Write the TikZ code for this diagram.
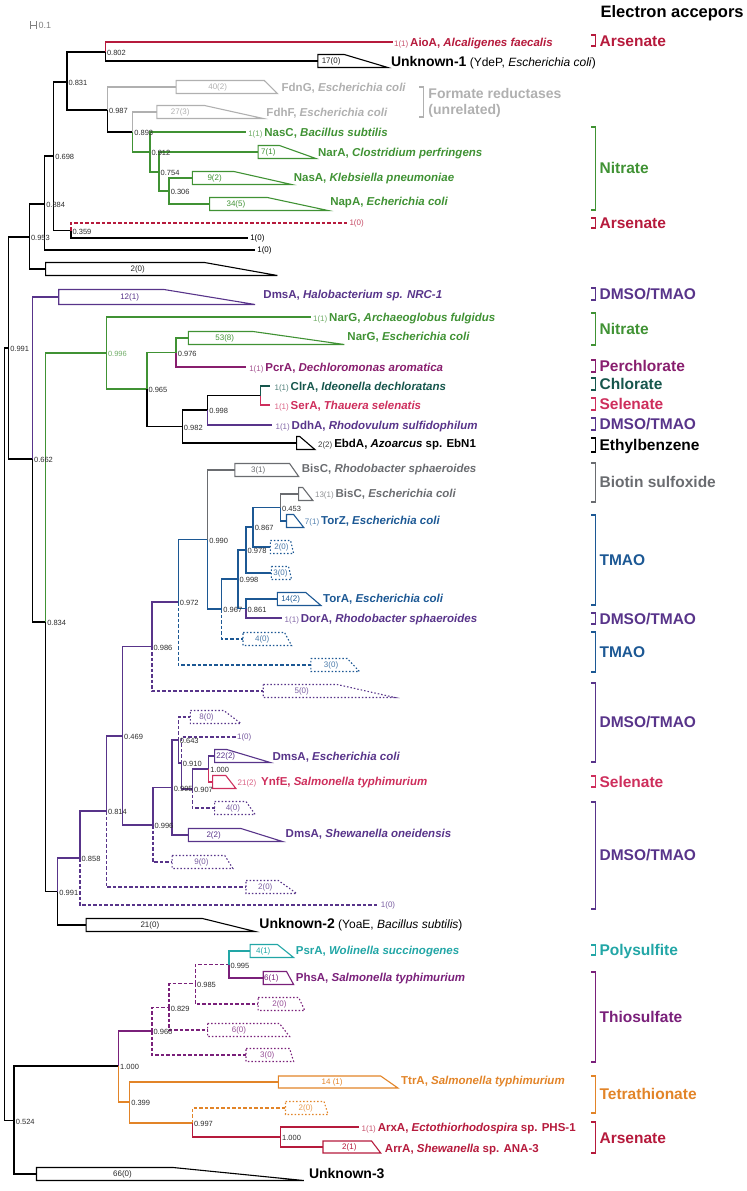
\documentclass[tikz,border=0pt]{standalone}
\usepackage{fontspec}
\setmainfont{Liberation Sans}
\usetikzlibrary{positioning}

\definecolor{arsred}{RGB}{182,26,60}
\definecolor{fdhgray}{RGB}{176,176,176}
\definecolor{nitgreen}{RGB}{64,146,52}
\definecolor{dmsopur}{RGB}{88,52,138}
\definecolor{perchl}{RGB}{136,30,110}
\definecolor{chlor}{RGB}{22,86,76}
\definecolor{selen}{RGB}{206,46,92}
\definecolor{biogray}{RGB}{106,108,112}
\definecolor{tmaoblue}{RGB}{28,88,148}
\definecolor{polyteal}{RGB}{34,166,166}
\definecolor{thiopur}{RGB}{122,32,122}
\definecolor{tetraor}{RGB}{226,132,40}
\definecolor{lblgray}{RGB}{45,45,45}

\newcommand{\cntpre}[1]{{\mdseries\upshape\fontsize{8}{9}\selectfont\color{.!75!white}#1}\,}

\tikzset{
  br/.style={line width=1.4pt},
  dsh/.style={line width=1.4pt, dash pattern=on 3.5pt off 2pt},
  clade/.style={line width=1.1pt, line join=miter},
  dotclade/.style={line width=1.1pt, dash pattern=on 1.5pt off 2pt},
  leaf/.style={anchor=west, inner sep=0pt, text height=8.2pt, text depth=0pt, font=\bfseries\fontsize{11.5}{12}\selectfont},
  unk/.style={anchor=west, inner sep=0pt, text height=10pt, text depth=0pt, font=\fontsize{12}{13}\selectfont},
  cnt/.style={inner sep=0pt, text height=5.7pt, text depth=0pt, font=\fontsize{8}{9}\selectfont},
  supp/.style={anchor=west, inner sep=0pt, text height=5.4pt, text depth=0pt, yshift=-1pt, font=\fontsize{7.5}{8}\selectfont, text=lblgray},
  grp/.style={anchor=west, inner sep=0pt, text height=11.1pt, text depth=0pt, font=\bfseries\fontsize{15.5}{16}\selectfont},
  brk/.style={line width=1.3pt},
}

\begin{document}
\begin{tikzpicture}[x=1.0125pt,y=-1pt]
\useasboundingbox (0,0) rectangle (736.8,1191);

% header and scale bar
\node[grp,font=\bfseries\fontsize{16.5}{17}\selectfont,text height=11.8pt] (title) at (593,12) {Electron accepors};
\coordinate (sbL) at (30,25);
\coordinate (sbR) at (36.5,25);
\draw[gray,line width=0.8pt,|-|] (sbL) -- (sbR);
\node[anchor=west,inner sep=0pt,text=gray,font=\fontsize{9}{10}\selectfont] (sbT) at (38,25) {0.1};

% internal nodes
\coordinate (root) at (4.5,734);
\coordinate (n0991) at (8.5,348);
\coordinate (n0953) at (29,237);
\coordinate (n0884) at (44,204);
\coordinate (n0698) at (53,156);
\coordinate (n0831) at (66,82);
\coordinate (n0802) at (104,52);
\coordinate (n0987) at (106,110);
\coordinate (n0893) at (131,132);
\coordinate (n0912) at (148,152);
\coordinate (n0754) at (157,172);
\coordinate (n0306) at (167,191);
\coordinate (n0359) at (70,230.5);
\coordinate (n0662) at (32,459);
\coordinate (n0834) at (45,622);
\coordinate (n0996) at (105,353);
\coordinate (n0965) at (145,389);
\coordinate (n0976) at (174,352.5);
\coordinate (n0982) at (180,426.5);
\coordinate (n0998a) at (205,410);
\coordinate (nX) at (257,395.5);
\coordinate (n0991b) at (57,891.5);
\coordinate (n0858) at (79,858);
\coordinate (n0814) at (105,811);
\coordinate (n0469) at (121,736);
\coordinate (n0986) at (150,646.5);
\coordinate (n0972) at (176,602);
\coordinate (n0990) at (205,539.5);
\coordinate (n0967) at (219,609);
\coordinate (n0998b) at (235,579);
\coordinate (n0978) at (243,550);
\coordinate (n0867) at (250,527);
\coordinate (n0453) at (277,507.5);
\coordinate (n0861) at (243,608.5);
\coordinate (n0996c) at (151,825);
\coordinate (nY) at (170,787.5);
\coordinate (n0643) at (176,740);
\coordinate (n0910) at (179,763);
\coordinate (n0907) at (190,789);
\coordinate (n1000a) at (206,769);
\coordinate (n0524) at (14,1120.5);
\coordinate (n1000b) at (117,1066);
\coordinate (n0966) at (150,1031);
\coordinate (n0829) at (167,1007.5);
\coordinate (n0985) at (193,983.5);
\coordinate (n0995) at (226,964.5);
\coordinate (n0399) at (128,1102);
\coordinate (n0997) at (190,1123);
\coordinate (n1000c) at (277,1137);

% leaf ends and collapsed clades
\coordinate (lAioA) at (388,42);
\coordinate (cUnk1) at (314,61);
\coordinate (cFdnG) at (174,87);
\coordinate (cFdhF) at (155,112);
\coordinate (lNasC) at (243,132);
\coordinate (cNarA) at (255,152);
\coordinate (cNasA) at (190,178);
\coordinate (cNapA) at (207,204);
\coordinate (lArsD) at (343,223);
\coordinate (l1a) at (245,238);
\coordinate (l1b) at (252,250);
\coordinate (c2a) at (45,269);
\coordinate (cHalo) at (58,297);
\coordinate (lNarGa) at (307,317);
\coordinate (cNarGe) at (186,338);
\coordinate (lPcrA) at (243,367);
\coordinate (lClrA) at (267,386);
\coordinate (lSerA) at (267,405);
\coordinate (lDdhA) at (269,425);
\coordinate (cEbdA) at (293,443);
\coordinate (cBisRs) at (232,470);
\coordinate (cBisEc) at (295,494);
\coordinate (cTorZ) at (283,521);
\coordinate (cTm2a) at (267,547);
\coordinate (cTm3a) at (268,573);
\coordinate (cTorA) at (274,599);
\coordinate (lDorA) at (279,618);
\coordinate (cTm4) at (240,639);
\coordinate (cTm3b) at (307,665);
\coordinate (cD5) at (260,691);
\coordinate (cD8) at (188,717);
\coordinate (lD1a) at (233,737);
\coordinate (cDmsEc) at (212,756);
\coordinate (cYnfE) at (210,782);
\coordinate (cD4) at (212,808);
\coordinate (cDmsSh) at (186,835);
\coordinate (cD9) at (170,862);
\coordinate (cD2) at (243,887);
\coordinate (lD1b) at (374,905);
\coordinate (cUnk2) at (85,925);
\coordinate (cPsrA) at (247,951);
\coordinate (cPhsA) at (260,978);
\coordinate (cT2) at (255,1004);
\coordinate (cT6) at (205,1030);
\coordinate (cT3) at (243,1055);
\coordinate (cTtrA) at (275,1082);
\coordinate (cO2) at (282,1108);
\coordinate (lArxA) at (355,1127);
\coordinate (cArrA) at (319,1147);
\coordinate (cUnk3) at (36,1174);

% branches, upper part
\draw[br] (root) |- (n0991);
\draw[br] (root) |- (n0524);
\draw[br] (n0991) |- (n0953);
\draw[br] (n0991) |- (n0662);
\draw[br] (n0953) |- (n0884);
\draw[br] (n0953) |- (c2a);
\draw[br] (n0884) |- (n0698);
\draw[br] (n0884) |- (l1b);
\draw[br] (n0698) |- (n0831);
\draw[br] (n0698) |- (n0359);
\draw[br] (n0359) |- (l1a);
\draw[dsh,arsred] (n0359) |- (lArsD);
\draw[br] (n0831) |- (n0802);
\draw[br] (n0831) |- (n0987);
\draw[br,arsred] (n0802) |- (lAioA);
\draw[br] (n0802) |- (cUnk1);
\draw[br,fdhgray] (n0987) |- (cFdnG);
\draw[br] (n0987) |- (n0893);
\draw[br,fdhgray] (n0893) |- (cFdhF);
\draw[br,nitgreen] (n0893) |- (n0912);
\draw[br,nitgreen] (n0912) |- (lNasC);
\draw[br,nitgreen] (n0912) |- (n0754);
\draw[br,nitgreen] (n0754) |- (cNarA);
\draw[br,nitgreen] (n0754) |- (n0306);
\draw[br,nitgreen] (n0306) |- (cNasA);
\draw[br,nitgreen] (n0306) |- (cNapA);

% branches, middle part
\draw[br,dmsopur] (n0662) |- (cHalo);
\draw[br] (n0662) |- (n0834);
\draw[br,nitgreen] (n0834) |- (n0996);
\draw[br] (n0834) |- (n0991b);
\draw[br,nitgreen] (n0996) |- (lNarGa);
\draw[br,nitgreen] (n0996) |- (n0965);
\draw[br,nitgreen] (n0965) |- (n0976);
\draw[br] (n0965) |- (n0982);
\draw[br,nitgreen] (n0976) |- (cNarGe);
\draw[br,perchl] (n0976) |- (lPcrA);
\draw[br] (n0982) |- (n0998a);
\draw[br] (n0982) |- (cEbdA);
\draw[br] (n0998a) |- (nX);
\draw[br,dmsopur] (n0998a) |- (lDdhA);
\draw[br,chlor] (nX) |- (lClrA);
\draw[br,selen] (nX) |- (lSerA);
\draw[br,dmsopur] (n0991b) |- (n0858);
\draw[br] (n0991b) |- (cUnk2);
\draw[br,dmsopur] (n0858) |- (n0814);
\draw[dsh,dmsopur] (n0858) |- (lD1b);
\draw[br,dmsopur] (n0814) |- (n0469);
\draw[dsh,dmsopur] (n0814) |- (cD2);
\draw[br,dmsopur] (n0469) |- (n0986);
\draw[br,dmsopur] (n0469) |- (n0996c);
\draw[br,dmsopur] (n0986) |- (n0972);
\draw[dsh,dmsopur] (n0986) |- (cD5);
\draw[br,tmaoblue] (n0972) |- (n0990);
\draw[dsh,tmaoblue] (n0972) |- (cTm3b);
\draw[br,biogray] (n0990) |- (cBisRs);
\draw[br,tmaoblue] (n0990) |- (n0967);
\draw[br,tmaoblue] (n0967) |- (n0998b);
\draw[dsh,tmaoblue] (n0967) |- (cTm4);
\draw[br,tmaoblue] (n0998b) |- (n0978);
\draw[br,tmaoblue] (n0998b) |- (n0861);
\draw[br,tmaoblue] (n0978) |- (n0867);
\draw[br,tmaoblue] (n0978) |- (cTm3a);
\draw[br,tmaoblue] (n0867) |- (n0453);
\draw[br,tmaoblue] (n0867) |- (cTm2a);
\draw[br,biogray] (n0453) |- (cBisEc);
\draw[br,tmaoblue] (n0453) |- (cTorZ);
\draw[br,tmaoblue] (n0861) |- (cTorA);
\draw[br,dmsopur] (n0861) |- (lDorA);
\draw[br,dmsopur] (n0996c) |- (nY);
\draw[dsh,dmsopur] (n0996c) |- (cD9);
\draw[br,dmsopur] (nY) |- (n0643);
\draw[br,dmsopur] (nY) |- (cDmsSh);
\draw[dsh,dmsopur] (n0643) |- (cD8);
\draw[br,dmsopur] (n0643) |- (n0910);
\draw[dsh,dmsopur] (n0910) |- (lD1a);
\draw[br,dmsopur] (n0910) |- (n0907);
\draw[br,dmsopur] (n0907) |- (n1000a);
\draw[dsh,dmsopur] (n0907) |- (cD4);
\draw[br,dmsopur] (n1000a) |- (cDmsEc);
\draw[br,selen] (n1000a) |- (cYnfE);

% branches, lower part
\draw[br] (n0524) |- (n1000b);
\draw[br] (n0524) |- (cUnk3);
\draw[br,thiopur] (n1000b) |- (n0966);
\draw[br,tetraor] (n1000b) |- (n0399);
\draw[dsh,thiopur] (n0966) |- (n0829);
\draw[dsh,thiopur] (n0966) |- (cT3);
\draw[dsh,thiopur] (n0829) |- (n0985);
\draw[dsh,thiopur] (n0829) |- (cT6);
\draw[dsh,thiopur] (n0985) |- (n0995);
\draw[dsh,thiopur] (n0985) |- (cT2);
\draw[br,polyteal] (n0995) |- (cPsrA);
\draw[br,thiopur] (n0995) |- (cPhsA);
\draw[br,tetraor] (n0399) |- (cTtrA);
\draw[br,tetraor] (n0399) |- (n0997);
\draw[dsh,tetraor] (n0997) |- (cO2);
\draw[br,arsred] (n0997) |- (n1000c);
\draw[br,arsred] (n1000c) |- (lArxA);
\draw[br,arsred] (n1000c) |- (cArrA);

% collapsed clades
\draw[clade] (cUnk1) ++(0,-6.5) -- ++(26,0) -- ++(43,13) -- ++(-69,0) -- cycle;
\draw[clade,fdhgray] (cFdnG) ++(0,-6.5) -- ++(87,0) -- ++(13,13) -- ++(-100,0) -- cycle;
\draw[clade,fdhgray] (cFdhF) ++(0,-6.5) -- ++(47,0) -- ++(58,13) -- ++(-105,0) -- cycle;
\draw[clade,nitgreen] (cNarA) ++(0,-6.5) -- ++(21,0) -- ++(36,13) -- ++(-57,0) -- cycle;
\draw[clade,nitgreen] (cNasA) ++(0,-6.5) -- ++(41,0) -- ++(57,13) -- ++(-98,0) -- cycle;
\draw[clade,nitgreen] (cNapA) ++(0,-6.5) -- ++(57,0) -- ++(60,13) -- ++(-117,0) -- cycle;
\draw[clade] (c2a) ++(0,-6.5) -- ++(157,0) -- ++(72,13) -- ++(-229,0) -- cycle;
\draw[clade,dmsopur] (cHalo) ++(0,-7.5) -- ++(104,0) -- ++(90,15) -- ++(-194,0) -- cycle;
\draw[clade,nitgreen] (cNarGe) ++(0,-6.5) -- ++(64,0) -- ++(90,13) -- ++(-154,0) -- cycle;
\draw[clade] (cEbdA) ++(0,-6.5) -- ++(3,0) -- ++(15,13) -- ++(-18,0) -- cycle;
\draw[clade,biogray] (cBisRs) ++(0,-6.5) -- ++(54,0) -- ++(9,13) -- ++(-63,0) -- cycle;
\draw[clade,biogray] (cBisEc) ++(0,-6.5) -- ++(4,0) -- ++(10,13) -- ++(-14,0) -- cycle;
\draw[clade,tmaoblue] (cTorZ) ++(0,-6.5) -- ++(7,0) -- ++(10,13) -- ++(-17,0) -- cycle;
\draw[dotclade,tmaoblue] (cTm2a) ++(0,-6.5) -- ++(20,0) -- ++(3,13) -- ++(-23,0) -- cycle;
\draw[dotclade,tmaoblue] (cTm3a) ++(0,-6.5) -- ++(17,0) -- ++(3,13) -- ++(-20,0) -- cycle;
\draw[clade,tmaoblue] (cTorA) ++(0,-6.5) -- ++(28,0) -- ++(15,13) -- ++(-43,0) -- cycle;
\draw[dotclade,tmaoblue] (cTm4) ++(0,-6.5) -- ++(41,0) -- ++(7,13) -- ++(-48,0) -- cycle;
\draw[dotclade,tmaoblue] (cTm3b) ++(0,-6.5) -- ++(36,0) -- ++(12,13) -- ++(-48,0) -- cycle;
\draw[dotclade,dmsopur] (cD5) ++(0,-6.5) -- ++(73,0) -- ++(57,13) -- ++(-130,0) -- cycle;
\draw[dotclade,dmsopur] (cD8) ++(0,-6.5) -- ++(33,0) -- ++(17,13) -- ++(-50,0) -- cycle;
\draw[clade,dmsopur] (cDmsEc) ++(0,-6.5) -- ++(12,0) -- ++(43,13) -- ++(-55,0) -- cycle;
\draw[clade,selen] (cYnfE) ++(0,-6.5) -- ++(13,0) -- ++(10,13) -- ++(-23,0) -- cycle;
\draw[dotclade,dmsopur] (cD4) ++(0,-6.5) -- ++(31,0) -- ++(9,13) -- ++(-40,0) -- cycle;
\draw[clade,dmsopur] (cDmsSh) ++(0,-6.5) -- ++(52,0) -- ++(41,13) -- ++(-93,0) -- cycle;
\draw[dotclade,dmsopur] (cD9) ++(0,-6.5) -- ++(52,0) -- ++(8,13) -- ++(-60,0) -- cycle;
\draw[dotclade,dmsopur] (cD2) ++(0,-6.5) -- ++(32,0) -- ++(18,13) -- ++(-50,0) -- cycle;
\draw[clade] (cUnk2) ++(0,-6.5) -- ++(115,0) -- ++(52,13) -- ++(-167,0) -- cycle;
\draw[clade,polyteal] (cPsrA) ++(0,-6.5) -- ++(27,0) -- ++(16,13) -- ++(-43,0) -- cycle;
\draw[clade,thiopur] (cPhsA) ++(0,-6.5) -- ++(23,0) -- ++(7,13) -- ++(-30,0) -- cycle;
\draw[dotclade,thiopur] (cT2) ++(0,-6.5) -- ++(40,0) -- ++(6,13) -- ++(-46,0) -- cycle;
\draw[dotclade,thiopur] (cT6) ++(0,-6.5) -- ++(71,0) -- ++(10,13) -- ++(-81,0) -- cycle;
\draw[dotclade,thiopur] (cT3) ++(0,-6.5) -- ++(43,0) -- ++(4,13) -- ++(-47,0) -- cycle;
\draw[clade,tetraor] (cTtrA) ++(0,-6) -- ++(101,0) -- ++(17,12) -- ++(-118,0) -- cycle;
\draw[dotclade,tetraor] (cO2) ++(0,-6.5) -- ++(38,0) -- ++(4,13) -- ++(-42,0) -- cycle;
\draw[clade,arsred] (cArrA) ++(0,-6) -- ++(48,0) -- ++(9,12) -- ++(-57,0) -- cycle;
\draw[clade] (cUnk3) ++(0,-6.5) -- ++(135,0) -- ++(129,13) -- ++(-264,0) -- cycle;

% clade sizes
\node[cnt,text=black!85] (kUnk1) at (327,61) {17(0)};
\node[cnt,text=fdhgray] (kFdnG) at (215,87) {40(2)};
\node[cnt,text=fdhgray] (kFdhF) at (178,112) {27(3)};
\node[cnt,text=nitgreen] (kNarA) at (265,152) {7(1)};
\node[cnt,text=nitgreen] (kNasA) at (212,178) {9(2)};
\node[cnt,text=nitgreen] (kNapA) at (233,204) {34(5)};
\node[cnt,text=black!85] (k2a) at (136,269) {2(0)};
\node[cnt,text=dmsopur] (kHalo) at (128,297) {12(1)};
\node[cnt,text=nitgreen] (kNarGe) at (222,338) {53(8)};
\node[cnt,text=biogray] (kBisRs) at (255,470) {3(1)};
\node[cnt,text=tmaoblue!80] (kTm2a) at (278,547) {2(0)};
\node[cnt,text=tmaoblue!80] (kTm3a) at (277,573) {3(0)};
\node[cnt,text=tmaoblue] (kTorA) at (287,599) {14(2)};
\node[cnt,text=tmaoblue!80] (kTm4) at (259,639) {4(0)};
\node[cnt,text=tmaoblue!80] (kTm3b) at (327,665) {3(0)};
\node[cnt,text=dmsopur!80] (kD5) at (298,691) {5(0)};
\node[cnt,text=dmsopur!80] (kD8) at (204,717) {8(0)};
\node[cnt,text=dmsopur] (kDmsEc) at (223,756) {22(2)};
\node[cnt,text=dmsopur!80] (kD4) at (230,808) {4(0)};
\node[cnt,text=dmsopur] (kDmsSh) at (211,835) {2(2)};
\node[cnt,text=dmsopur!80] (kD9) at (199,862) {9(0)};
\node[cnt,text=dmsopur!80] (kD2) at (262,887) {2(0)};
\node[cnt,text=black!85] (kUnk2) at (148,925) {21(0)};
\node[cnt,text=polyteal] (kPsrA) at (260,951) {4(1)};
\node[cnt,text=thiopur] (kPhsA) at (268,978) {6(1)};
\node[cnt,text=thiopur!80] (kT2) at (276,1004) {2(0)};
\node[cnt,text=thiopur!80] (kT6) at (236,1030) {6(0)};
\node[cnt,text=thiopur!80] (kT3) at (264,1055) {3(0)};
\node[cnt,text=tetraor] (kTtrA) at (328,1082) {14 (1)};
\node[cnt,text=tetraor!80] (kO2) at (302,1108) {2(0)};
\node[cnt,text=arsred] (kArrA) at (345,1147) {2(1)};
\node[cnt,text=black!85] (kUnk3) at (121,1174) {66(0)};
\node[cnt,anchor=west,text=arsred!80] (kArsD) at (345,223) {1(0)};
\node[cnt,anchor=west,text=black] (k1a) at (247,238) {1(0)};
\node[cnt,anchor=west,text=black] (k1b) at (254,250) {1(0)};
\node[cnt,anchor=west,text=dmsopur!80] (kD1a) at (234,737) {1(0)};
\node[cnt,anchor=west,text=dmsopur!80] (kD1b) at (376,905) {1(0)};

% tip names
\node[leaf,arsred] (tAioA) at (389,42) {\cntpre{1(1)}AioA, \textit{Alcaligenes faecalis}};
\node[unk] (tUnk1) at (386,61) {\textbf{\fontsize{14}{15}\selectfont Unknown-1} (YdeP, \textit{Escherichia coli})};
\node[leaf,fdhgray] (tFdnG) at (278,87) {FdnG, \textit{Escherichia coli}};
\node[leaf,fdhgray] (tFdhF) at (263,112) {FdhF, \textit{Escherichia coli}};
\node[leaf,nitgreen] (tNasC) at (245,132) {\cntpre{1(1)}NasC, \textit{Bacillus subtilis}};
\node[leaf,nitgreen] (tNarA) at (314,152) {NarA, \textit{Clostridium perfringens}};
\node[leaf,nitgreen] (tNasA) at (290,177) {NasA, \textit{Klebsiella pneumoniae}};
\node[leaf,nitgreen] (tNapA) at (326,201) {NapA, \textit{Echerichia coli}};
\node[leaf,dmsopur] (tHalo) at (260,294) {DmsA, \textit{Halobacterium sp. NRC-1}};
\node[leaf,nitgreen] (tNarGa) at (309,317) {\cntpre{1(1)}NarG, \textit{Archaeoglobus fulgidus}};
\node[leaf,nitgreen] (tNarGe) at (343,336) {NarG, \textit{Escherichia coli}};
\node[leaf,perchl] (tPcrA) at (246,367) {\cntpre{1(1)}PcrA, \textit{Dechloromonas aromatica}};
\node[leaf,chlor] (tClrA) at (271,386) {\cntpre{1(1)}ClrA, \textit{Ideonella dechloratans}};
\node[leaf,selen] (tSerA) at (271,405) {\cntpre{1(1)}SerA, \textit{Thauera selenatis}};
\node[leaf,dmsopur] (tDdhA) at (272,425) {\cntpre{1(1)}DdhA, \textit{Rhodovulum sulfidophilum}};
\node[leaf,black] (tEbdA) at (314,443) {\cntpre{2(2)}EbdA, \textit{Azoarcus} sp. EbN1};
\node[leaf,biogray] (tBisRs) at (298,468) {BisC, \textit{Rhodobacter sphaeroides}};
\node[leaf,biogray] (tBisEc) at (311,493) {\cntpre{13(1)}BisC, \textit{Escherichia coli}};
\node[leaf,tmaoblue] (tTorZ) at (301,520) {\cntpre{7(1)}TorZ, \textit{Escherichia coli}};
\node[leaf,tmaoblue] (tTorA) at (319,598) {TorA, \textit{Escherichia coli}};
\node[leaf,dmsopur] (tDorA) at (281,618) {\cntpre{1(1)}DorA, \textit{Rhodobacter sphaeroides}};
\node[leaf,dmsopur] (tDmsEc) at (269,756) {DmsA, \textit{Escherichia coli}};
\node[leaf,selen] (tYnfE) at (234.5,781) {\cntpre{21(2)}\hspace{3pt}YnfE, \textit{Salmonella typhimurium}};
\node[leaf,dmsopur] (tDmsSh) at (282,833) {DmsA, \textit{Shewanella oneidensis}};
\node[unk] (tUnk2) at (256,923) {\textbf{\fontsize{14}{15}\selectfont Unknown-2} (YoaE, \textit{Bacillus subtilis})};
\node[leaf,polyteal] (tPsrA) at (292,950) {PsrA, \textit{Wolinella succinogenes}};
\node[leaf,thiopur] (tPhsA) at (292,977) {PhsA, \textit{Salmonella typhimurium}};
\node[leaf,tetraor] (tTtrA) at (396,1080) {TtrA, \textit{Salmonella typhimurium}};
\node[leaf,arsred] (tArxA) at (357,1127) {\cntpre{1(1)}ArxA, \textit{Ectothiorhodospira} sp. PHS-1};
\node[leaf,arsred] (tArrA) at (380,1148) {ArrA, \textit{Shewanella} sp. ANA-3};
\node[unk] (tUnk3) at (305,1173) {\textbf{\fontsize{14}{15}\selectfont Unknown-3}};

% support values
\node[supp, right=1.5pt of n0802] (s0802) {0.802};
\node[supp, right=1.5pt of n0831] (s0831) {0.831};
\node[supp, right=1.5pt of n0987] (s0987) {0.987};
\node[supp, right=1.5pt of n0893] (s0893) {0.893};
\node[supp, right=1.5pt of n0912] (s0912) {0.912};
\node[supp, right=1.5pt of n0754] (s0754) {0.754};
\node[supp, right=1.5pt of n0306] (s0306) {0.306};
\node[supp, right=1.5pt of n0698] (s0698) {0.698};
\node[supp, right=1.5pt of n0884] (s0884) {0.884};
\node[supp, right=1.5pt of n0359] (s0359) {0.359};
\node[supp, right=1.5pt of n0953] (s0953) {0.953};
\node[supp, right=1.5pt of n0991] (s0991) {0.991};
\node[supp, right=1.5pt of n0662] (s0662) {0.662};
\node[supp, right=1.5pt of n0996, text=nitgreen!75] (s0996) {0.996};
\node[supp, right=1.5pt of n0976] (s0976) {0.976};
\node[supp, right=1.5pt of n0965] (s0965) {0.965};
\node[supp, right=1.5pt of n0982] (s0982) {0.982};
\node[supp, right=1.5pt of n0998a] (s0998a) {0.998};
\node[supp, right=1.5pt of n0834] (s0834) {0.834};
\node[supp, right=1.5pt of n0990] (s0990) {0.990};
\node[supp, right=1.5pt of n0453] (s0453) {0.453};
\node[supp, right=1.5pt of n0867] (s0867) {0.867};
\node[supp, right=1.5pt of n0978] (s0978) {0.978};
\node[supp, right=1.5pt of n0998b] (s0998b) {0.998};
\node[supp, right=1.5pt of n0861] (s0861) {0.861};
\node[supp, right=1.5pt of n0967] (s0967) {0.967};
\node[supp, right=1.5pt of n0972] (s0972) {0.972};
\node[supp, right=1.5pt of n0986] (s0986) {0.986};
\node[supp, right=1.5pt of n0469] (s0469) {0.469};
\node[supp, right=1.5pt of n0643] (s0643) {0.643};
\node[supp, right=1.5pt of n0910] (s0910) {0.910};
\node[supp, right=1.5pt of n1000a] (s1000a) {1.000};
\node[supp, right=1.5pt of nY] (sY) {0.995};
\node[supp, right=1.5pt of n0907] (s0907) {0.907};
\node[supp, right=1.5pt of n0996c] (s0996c) {0.996};
\node[supp, right=1.5pt of n0814] (s0814) {0.814};
\node[supp, right=1.5pt of n0858] (s0858) {0.858};
\node[supp, right=1.5pt of n0991b] (s0991b) {0.991};
\node[supp, right=1.5pt of n0995] (s0995) {0.995};
\node[supp, right=1.5pt of n0985] (s0985) {0.985};
\node[supp, right=1.5pt of n0829] (s0829) {0.829};
\node[supp, right=1.5pt of n0966] (s0966) {0.966};
\node[supp, right=1.5pt of n1000b] (s1000b) {1.000};
\node[supp, right=1.5pt of n0399] (s0399) {0.399};
\node[supp, right=1.5pt of n0997] (s0997) {0.997};
\node[supp, right=1.5pt of n1000c] (s1000c) {1.000};
\node[supp, right=1.5pt of n0524] (s0524) {0.524};

% electron acceptor brackets
\draw[brk,arsred] (584,35) -- (588,35) -- (588,46) -- (584,46);
\draw[brk,fdhgray] (414,87) -- (418,87) -- (418,117) -- (414,117);
\draw[brk,nitgreen] (584,127) -- (588,127) -- (588,210) -- (584,210);
\draw[brk,arsred] (584,218) -- (588,218) -- (588,228) -- (584,228);
\draw[brk,dmsopur] (584,288) -- (588,288) -- (588,300) -- (584,300);
\draw[brk,nitgreen] (584,313) -- (588,313) -- (588,345) -- (584,345);
\draw[brk,perchl] (584,360) -- (588,360) -- (588,372) -- (584,372);
\draw[brk,chlor] (584,378) -- (588,378) -- (588,390) -- (584,390);
\draw[brk,selen] (584,398) -- (588,398) -- (588,410) -- (584,410);
\draw[brk,dmsopur] (584,418) -- (588,418) -- (588,430) -- (584,430);
\draw[brk,black] (584,438) -- (588,438) -- (588,452) -- (584,452);
\draw[brk,biogray] (584,463) -- (588,463) -- (588,502) -- (584,502);
\draw[brk,tmaoblue] (584,515) -- (588,515) -- (588,605) -- (584,605);
\draw[brk,dmsopur] (584,613) -- (588,613) -- (588,624) -- (584,624);
\draw[brk,tmaoblue] (584,632) -- (588,632) -- (588,672) -- (584,672);
\draw[brk,dmsopur] (584,683) -- (588,683) -- (588,762) -- (584,762);
\draw[brk,selen] (584,776) -- (588,776) -- (588,787) -- (584,787);
\draw[brk,dmsopur] (584,802) -- (588,802) -- (588,909) -- (584,909);
\draw[brk,polyteal] (584,945) -- (588,945) -- (588,955) -- (584,955);
\draw[brk,thiopur] (584,972) -- (588,972) -- (588,1062) -- (584,1062);
\draw[brk,tetraor] (584,1076) -- (588,1076) -- (588,1113) -- (584,1113);
\draw[brk,arsred] (584,1122) -- (588,1122) -- (588,1153) -- (584,1153);

\node[grp,arsred] (gArs1) at (592,40.5) {Arsenate};
\node[anchor=west,inner sep=0pt,text height=10pt,text depth=0pt,font=\bfseries\fontsize{14}{15}\selectfont,text=fdhgray] (gForm) at (423,93) {Formate reductases};
\node[anchor=west,inner sep=0pt,text height=10pt,text depth=0pt,font=\bfseries\fontsize{14}{15}\selectfont,text=fdhgray] (gUnrel) at (423,109) {(unrelated)};
\node[grp,nitgreen] (gNit1) at (592,168) {Nitrate};
\node[grp,arsred] (gArs2) at (592,223) {Arsenate};
\node[grp,dmsopur] (gDms1) at (592,294) {DMSO/TMAO};
\node[grp,nitgreen] (gNit2) at (592,329) {Nitrate};
\node[grp,perchl] (gPerc) at (592,366) {Perchlorate};
\node[grp,chlor] (gChlo) at (592,384) {Chlorate};
\node[grp,selen] (gSel1) at (592,404) {Selenate};
\node[grp,dmsopur] (gDms2) at (592,424) {DMSO/TMAO};
\node[grp,black] (gEthy) at (592,445) {Ethylbenzene};
\node[grp,biogray] (gBiot) at (592,482) {Biotin sulfoxide};
\node[grp,tmaoblue] (gTma1) at (592,560) {TMAO};
\node[grp,dmsopur] (gDms3) at (592,619) {DMSO/TMAO};
\node[grp,tmaoblue] (gTma2) at (592,652) {TMAO};
\node[grp,dmsopur] (gDms4) at (592,722) {DMSO/TMAO};
\node[grp,selen] (gSel2) at (592,782) {Selenate};
\node[grp,dmsopur] (gDms5) at (592,855) {DMSO/TMAO};
\node[grp,polyteal] (gPoly) at (592,950) {Polysulfite};
\node[grp,thiopur] (gThio) at (592,1017) {Thiosulfate};
\node[grp,tetraor] (gTetr) at (592,1094) {Tetrathionate};
\node[grp,arsred] (gArs3) at (592,1138) {Arsenate};
\end{tikzpicture}
\end{document}
